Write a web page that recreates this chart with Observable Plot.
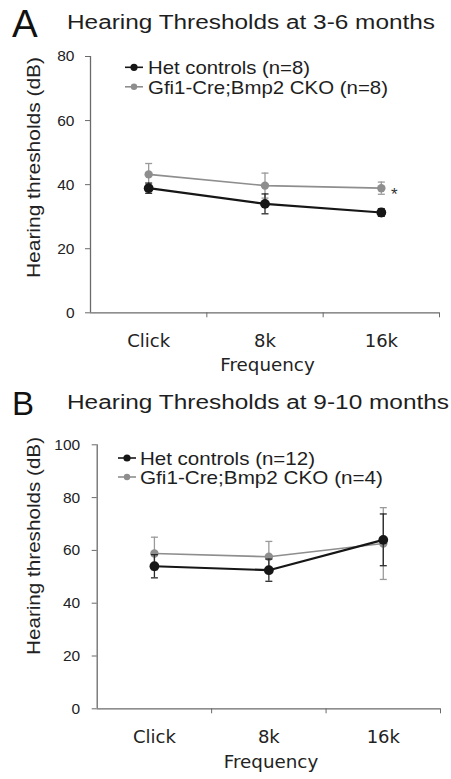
<!DOCTYPE html>
<html><head><meta charset="utf-8">
<script src="https://cdn.jsdelivr.net/npm/d3@7"></script>
<script src="https://cdn.jsdelivr.net/npm/@observablehq/plot@0.6"></script>
<style>
body{margin:0;background:#fff;}
#root{position:relative;width:451px;height:779px;overflow:hidden;}
#root > svg{position:absolute;left:0;}
</style></head>
<body><div id="root"></div>
<script>
// ---- data ----
const categories = ["Click", "8k", "16k"];
const yTicksA = [0, 20, 40, 60, 80];
const yTicksB = [0, 20, 40, 60, 80, 100];

const aHetMean = [38.9, 34.0, 31.3];
const aHetErr  = [1.6, 3.1, 1.2];
const aCkoMean = [43.2, 39.7, 38.9];
const aCkoErr  = [3.4, 3.9, 1.9];

const bHetMean = [54.0, 52.5, 64.0];
const bHetErr  = [4.4, 4.2, 9.8];
const bCkoMean = [58.8, 57.6, 62.6];
const bCkoErr  = [6.2, 5.8, 13.6];

const seriesNames = ["Het controls", "Gfi1-Cre;Bmp2 CKO"];
const nA = [8, 8];
const nB = [12, 4];
const titleA = "Hearing Thresholds at 3-6 months";
const titleB = "Hearing Thresholds at 9-10 months";
const yLabel = "Hearing thresholds (dB)";
const xLabel = "Frequency";
const starLabel = "*";

const BLACK = "#161616", GRAY = "#8e8e8e", AXIS = "#6a6a6a";

function rows(mean, err) {
  return categories.map((c, i) => ({cat: c, pos: i + 0.5, m: mean[i], lo: mean[i] - err[i], hi: mean[i] + err[i]}));
}

const capSymbol = {draw(ctx) { ctx.moveTo(-3.5, 0); ctx.lineTo(3.5, 0); }};

function stretchTexts(svg, label, s) {
  svg.querySelectorAll(`g[aria-label="${label}"] text`).forEach(t => {
    const x = +t.getAttribute("x") || 0, y = +t.getAttribute("y") || 0;
    t.removeAttribute("x"); t.removeAttribute("y");
    const tr = t.getAttribute("transform") || "";
    t.setAttribute("transform", `${tr} translate(${x},${y}) scale(${s},1)`);
  });
}

function panel({top, height, mt, mb, ml, mr, yMax, yTicks, het, cko, tickPad, yPad, star}) {
  const marks = [
    Plot.ruleX([0], {stroke: AXIS, strokeWidth: 1.3}),
    Plot.ruleY([0], {stroke: AXIS, strokeWidth: 1.3}),
    Plot.axisY({ticks: yTicks, tickSize: 5, tickFormat: () => "", label: null, stroke: AXIS}),
    Plot.text(yTicks, {x: 0, y: d => d, text: d => String(d), textAnchor: "end", dx: -(5 + yPad),
      fontSize: 15.5, fill: "#222", ariaLabel: "ytick-text"}),
    Plot.axisX({ticks: [1, 2, 3], tickSize: 5, tickFormat: () => "", label: null, stroke: AXIS}),
    Plot.axisX({ticks: categories.map((c, i) => i + 0.5), tickSize: 0, tickPadding: tickPad,
      tickFormat: v => categories[Math.floor(v)], label: null, fontSize: 18, fontFamily: "DejaVu Sans", fill: "#222"}),
  ];
  for (const [d, col, lw, r, eb] of [[cko, GRAY, 1.6, 4.2, "#9a9a9a"], [het, BLACK, 2.2, 4.9, "#2a2a2a"]]) {
    marks.push(
      Plot.ruleX(d, {x: "pos", y1: "lo", y2: "hi", stroke: eb, strokeWidth: 1.3}),
      Plot.dot(d, {x: "pos", y: "lo", symbol: capSymbol, fill: "none", stroke: eb, strokeWidth: 1.3}),
      Plot.dot(d, {x: "pos", y: "hi", symbol: capSymbol, fill: "none", stroke: eb, strokeWidth: 1.3}),
      Plot.line(d, {x: "pos", y: "m", stroke: col, strokeWidth: lw}),
      Plot.dot(d, {x: "pos", y: "m", r, fill: col, stroke: "none"})
    );
  }
  if (star) marks.push(Plot.text(cko.slice(2), {x: "pos", y: "m", text: () => starLabel, dx: 13, dy: 6, fontSize: 17, fill: "#333"}));
  const svg = Plot.plot({
    width: 451, height, marginTop: mt, marginBottom: mb, marginLeft: ml, marginRight: mr,
    style: {fontFamily: "Liberation Sans, Arial, sans-serif", background: "transparent"},
    x: {type: "linear", domain: [0, 3]},
    y: {domain: [0, yMax]},
    marks
  });
  svg.style.top = top + "px";
  document.getElementById("root").appendChild(svg);
  stretchTexts(svg, "ytick-text", 1.25);
  return svg;
}

panel({top: 0, height: 390, mt: 56, mb: 77.7, ml: 90, mr: 12, yMax: 80, yTicks: yTicksA,
  het: rows(aHetMean, aHetErr), cko: rows(aCkoMean, aCkoErr), tickPad: 21, yPad: 11, star: true});
panel({top: 390, height: 389, mt: 54.3, mb: 70.7, ml: 96.7, mr: 11, yMax: 100, yTicks: yTicksB,
  het: rows(bHetMean, bHetErr), cko: rows(bCkoMean, bCkoErr), tickPad: 21.5, yPad: 12, star: false});

// ---- overlay: panel letters, titles, legends, axis labels ----
const ov = d3.select("#root").append("svg").attr("width", 451).attr("height", 779)
  .style("top", "0px").style("font-family", "Liberation Sans, Arial, sans-serif").attr("fill", "#1c1c1c");

function header(letter, lx, lb, lsize, title, tx, tb, tlen) {
  ov.append("text").attr("x", lx).attr("y", lb).attr("font-size", lsize).attr("fill", "#111").text(letter);
  ov.append("text").attr("x", tx).attr("y", tb).attr("font-size", 20).attr("fill", "#1e1e1e")
    .attr("textLength", tlen).attr("lengthAdjust", "spacingAndGlyphs").text(title);
}
header("A", 12, 36.7, 38.5, titleA, 67, 29, 368);
header("B", 12, 415, 33, titleB, 67, 409, 382);

function legend(mx, tx, b1, b2, n, len1, len2) {
  const items = [[seriesNames[0], n[0], BLACK, b1, len1, 3.6], [seriesNames[1], n[1], GRAY, b2, len2, 3.2]];
  for (const [name, k, col, b, len, r] of items) {
    const cy = b - 7;
    ov.append("line").attr("x1", mx - 9).attr("x2", mx + 9).attr("y1", cy).attr("y2", cy).attr("stroke", col).attr("stroke-width", 1.6);
    ov.append("circle").attr("cx", mx).attr("cy", cy).attr("r", r).attr("fill", col);
    ov.append("text").attr("x", tx).attr("y", b).attr("font-size", 18.5).attr("fill", "#1e1e1e")
      .attr("textLength", len).attr("lengthAdjust", "spacingAndGlyphs").text(`${name} (n=${k})`);
  }
}
legend(134, 148, 74.3, 93.8, nA, 162, 240);
legend(127, 140, 465, 484, nB, 175, 243);

function ylab(cx, cy, len) {
  ov.append("text").attr("transform", `translate(${cx},${cy}) rotate(-90)`).attr("text-anchor", "middle")
    .attr("font-size", 18.5).attr("fill", "#222").attr("textLength", len).attr("lengthAdjust", "spacingAndGlyphs").text(yLabel);
}
ylab(39.5, 167.5, 221);
ylab(39.5, 546, 218);

function xlab(cx, b) {
  ov.append("text").attr("x", cx).attr("y", b).attr("text-anchor", "middle").attr("font-size", 18.3)
    .attr("font-family", "DejaVu Sans").attr("fill", "#222").text(xLabel);
}
xlab(267.5, 371.4);
xlab(271, 768);
</script>
</body></html>
